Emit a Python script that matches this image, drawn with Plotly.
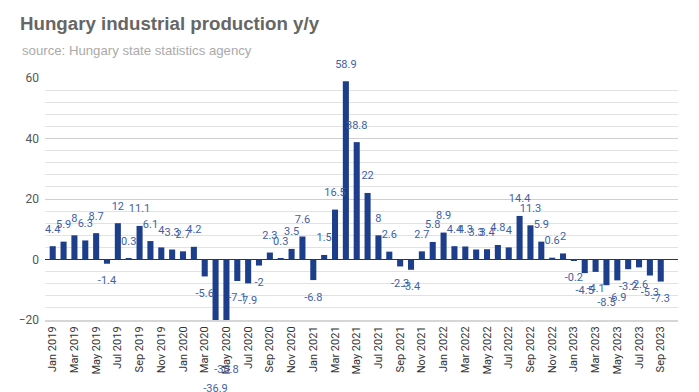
import plotly.graph_objects as go

months = ["Jan", "Feb", "Mar", "Apr", "May", "Jun", "Jul", "Aug", "Sep", "Oct", "Nov", "Dec"]
categories = [f"{m} {y}" for y in range(2019, 2024) for m in months][:57]

values = [
    4.4, 5.9, 8, 6.3, 8.7, -1.4, 12, 0.3, 11.1, 6.1, 4, 3.3,
    2.7, 4.2, -5.6, -36.9, -30.8, -7.1, -7.9, -2, 2.3, 0.3, 3.5, 7.6,
    -6.8, 1.5, 16.5, 58.9, 38.8, 22, 8, 2.6, -2.3, -3.4, 2.7, 5.8,
    8.9, 4.4, 4.3, 3.3, 3.4, 4.8, 4, 14.4, 11.3, 5.9, 0.6, 2,
    -0.2, -4.5, -4.1, -8.5, -6.9, -3.2, -2.6, -5.3, -7.3,
]

tick_labels = categories[::2]

BAR = "#1d3f8b"
LABEL = "#3f5fa5"

# page shows the figure with an 8px body offset; size figure to compensate
W, H = 691, 384
PL, PR, PT, PB = 37, 670, 70, 312          # main plot box (px)
Y_MIN, Y_MAX = -20, 60
px_per_unit = (PB - PT) / (Y_MAX - Y_MIN)
label_gap = 7.5 / px_per_unit   # extra distance of value labels from bar ends
full_top = Y_MAX + PT / px_per_unit
full_bottom = Y_MIN - (H - PB) / px_per_unit

pos_text = [str(v) if v >= 0 else "" for v in values]
neg_text = [str(v) if v < 0 else "" for v in values]

fig = go.Figure()
fig.add_trace(go.Bar(
    x=categories, y=values, marker_color=BAR, marker_line_width=0,
    cliponaxis=True, hoverinfo="x+y", showlegend=False,
    xaxis="x", yaxis="y",
))
for txt, ax in ((pos_text, "y2"), (neg_text, "y3")):
    fig.add_trace(go.Bar(
        x=categories, y=values, marker_color="rgba(0,0,0,0)", marker_line_width=0,
        text=txt, textposition="outside", constraintext="none",
        textfont=dict(family="Roboto", size=11, color=LABEL),
        cliponaxis=False, hoverinfo="skip", showlegend=False,
        xaxis="x", yaxis=ax,
    ))

hidden_axis = dict(domain=[0, 1], anchor="x", automargin=False, visible=False,
                   fixedrange=True, showgrid=False, zeroline=False)

fig.update_layout(
    width=W, height=H,
    margin=dict(l=PL, r=W - PR, t=0, b=0),
    paper_bgcolor="white", plot_bgcolor="rgba(0,0,0,0)",
    barmode="overlay", bargap=0.44,
    font=dict(family="Roboto", color="#555"),
    title=dict(
        text="<b>Hungary industrial production y/y</b>",
        x=12 / W, xanchor="left", xref="container",
        y=1 - 15 / H, yanchor="middle", yref="container",
        font=dict(family="Liberation Sans, Arial", size=18.7, color="#666"),
    ),
    annotations=[dict(
        text="source: Hungary state statistics agency",
        xref="paper", yref="paper",
        x=(12 - PL) / (PR - PL), y=1 - 42 / H,
        xanchor="left", yanchor="middle", showarrow=False,
        font=dict(family="Liberation Sans, Arial", size=13.2, color="#aaa"),
    )],
    xaxis=dict(
        type="category", categoryorder="array", categoryarray=categories,
        range=[-0.71, 57.59], anchor="y", automargin=False,
        tickmode="array", tickvals=tick_labels, ticktext=tick_labels,
        tickangle=-90, tickfont=dict(family="Roboto", size=11, color="#333"),
        showgrid=False, showline=True, linecolor="#d6d6d6", linewidth=2, ticks="",
    ),
    yaxis=dict(
        domain=[(H - PB) / H, (H - PT) / H], anchor="x", automargin=False,
        range=[Y_MIN, Y_MAX], tickmode="linear", tick0=0, dtick=20,
        tickfont=dict(family="Roboto", size=12, color="#555"),
        showgrid=True, gridcolor="#cfcfcf", gridwidth=1,
        minor=dict(tickmode="linear", dtick=4, tick0=0, showgrid=True,
                   gridcolor="#e2e2e2", gridwidth=1),
        zeroline=True, zerolinecolor="#333", zerolinewidth=1,
        showline=False, ticks="", ticklabelstandoff=5,
    ),
    yaxis2=dict(range=[full_bottom - label_gap, full_top - label_gap], **hidden_axis),
    yaxis3=dict(range=[full_bottom + label_gap, full_top + label_gap], **hidden_axis),
)

fig.write_html("out.html")
